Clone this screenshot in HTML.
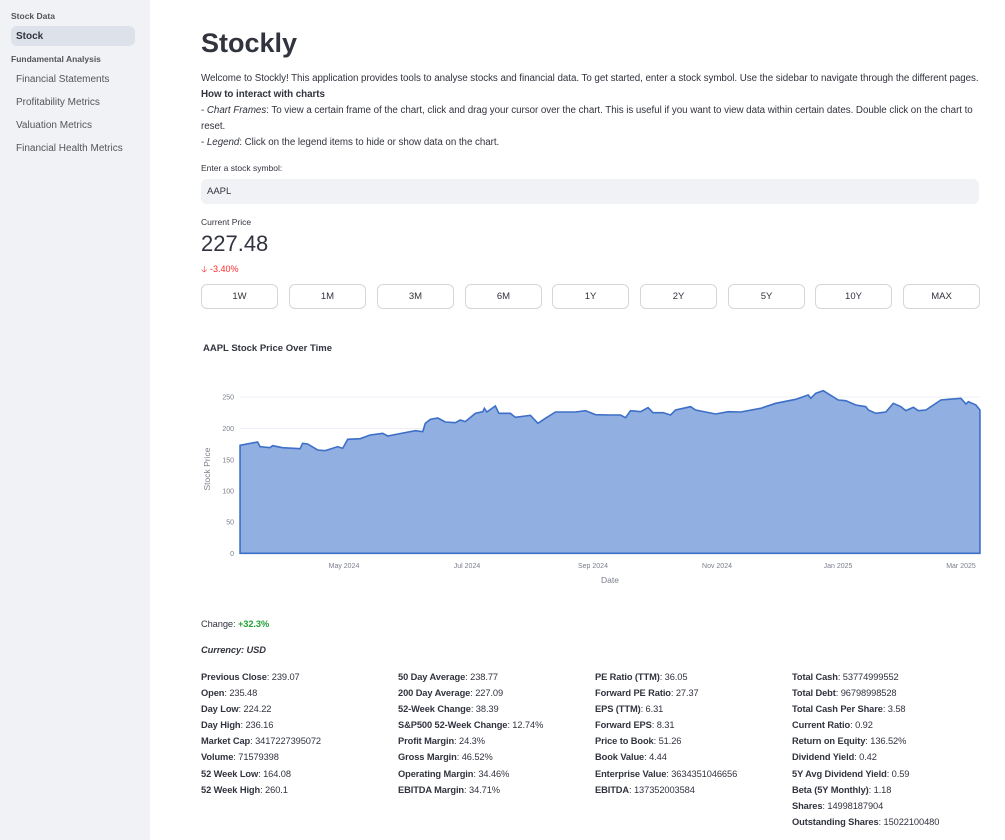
<!DOCTYPE html>
<html><head><meta charset="utf-8"><style>
*{margin:0;padding:0;box-sizing:border-box}
body{width:1005px;height:840px;overflow:hidden;background:#fff;font-family:"Liberation Sans",sans-serif;color:#31333f;position:relative}
.side{position:absolute;left:0;top:0;width:150px;height:840px;background:#f0f2f6}
.abs{position:absolute;white-space:nowrap}
.sh{font-size:8.5px;font-weight:bold;color:#555}
.si{font-size:10px;color:#555}
.t{font-size:9.8px;letter-spacing:-0.05px}
.btn{position:absolute;top:284px;height:25px;width:77px;border:1px solid #d6d6d9;border-radius:6px;font-size:9.5px;text-align:center;line-height:23px;color:#31333f}
.m{font-size:9.3px;letter-spacing:-0.1px}
.m b{font-weight:bold}
</style></head><body>
<div class="side"></div>
<div class="abs sh" style="left:11px;top:11px">Stock Data</div>
<div class="abs" style="left:11px;top:26px;width:124px;height:20px;background:#dde1ea;border-radius:6px"></div>
<div class="abs si" style="left:16px;top:31px;font-weight:bold;color:#31333f">Stock</div>
<div class="abs sh" style="left:11px;top:54px">Fundamental Analysis</div>
<div class="abs si" style="left:16px;top:74px">Financial Statements</div>
<div class="abs si" style="left:16px;top:97px">Profitability Metrics</div>
<div class="abs si" style="left:16px;top:120px">Valuation Metrics</div>
<div class="abs si" style="left:16px;top:143px">Financial Health Metrics</div>

<div class="abs" style="left:201px;top:28px;font-size:27px;font-weight:bold">Stockly</div>
<div class="abs t" style="left:201px;top:73px">Welcome to Stockly! This application provides tools to analyse stocks and financial data. To get started, enter a stock symbol. Use the sidebar to navigate through the different pages.</div>
<div class="abs t" style="left:201px;top:89px;font-weight:bold">How to interact with charts</div>
<div class="abs t" style="left:201px;top:105px">- <i>Chart Frames</i>: To view a certain frame of the chart, click and drag your cursor over the chart. This is useful if you want to view data within certain dates. Double click on the chart to</div>
<div class="abs t" style="left:201px;top:121px">reset.</div>
<div class="abs t" style="left:201px;top:137px">- <i>Legend</i>: Click on the legend items to hide or show data on the chart.</div>
<div class="abs" style="left:201px;top:163px;font-size:8.5px">Enter a stock symbol:</div>
<div class="abs" style="left:201px;top:179px;width:778px;height:25px;background:#f0f2f6;border-radius:6px"></div>
<div class="abs" style="left:207px;top:186px;font-size:9.5px">AAPL</div>
<div class="abs" style="left:201px;top:217px;font-size:8.5px">Current Price</div>
<div class="abs" style="left:201px;top:231px;font-size:22px">227.48</div>
<div class="abs" style="left:201px;top:262px;font-size:9px;color:#ff2b2b">&#129123; -3.40%</div>
<div class="btn" style="left:201px">1W</div>
<div class="btn" style="left:289px">1M</div>
<div class="btn" style="left:377px">3M</div>
<div class="btn" style="left:465px">6M</div>
<div class="btn" style="left:552px">1Y</div>
<div class="btn" style="left:640px">2Y</div>
<div class="btn" style="left:728px">5Y</div>
<div class="btn" style="left:815px">10Y</div>
<div class="btn" style="left:903px">MAX</div>

<div class="abs" style="left:203px;top:343px;font-size:9.5px;font-weight:bold">AAPL Stock Price Over Time</div>
<svg class="abs" style="left:0;top:0" width="1005" height="840">
<g stroke="#eceff5" stroke-width="1">
<line x1="240" x2="980" y1="397" y2="397"/><line x1="240" x2="980" y1="428.5" y2="428.5"/><line x1="240" x2="980" y1="460" y2="460"/><line x1="240" x2="980" y1="491" y2="491"/><line x1="240" x2="980" y1="522" y2="522"/>
</g>
<g font-size="7" fill="#7a7f8c" font-family="Liberation Sans" text-anchor="end">
<text x="234" y="399.5">250</text><text x="234" y="431">200</text><text x="234" y="462.5">150</text><text x="234" y="493.5">100</text><text x="234" y="524.5">50</text><text x="234" y="556">0</text>
</g>
<g font-size="7" fill="#7a7f8c" font-family="Liberation Sans" text-anchor="middle">
<text x="344" y="568">May 2024</text><text x="467" y="568">Jul 2024</text><text x="593" y="568">Sep 2024</text><text x="717" y="568">Nov 2024</text><text x="838" y="568">Jan 2025</text><text x="961" y="568">Mar 2025</text>
<text x="610" y="583" font-size="8.5">Date</text>
<text transform="translate(210,469) rotate(-90)" font-size="8.5">Stock Price</text>
</g>
<g transform="translate(195,380) scale(0.5006,0.3333)">
<path fill="#91afe0" stroke="#3d6fc8" stroke-width="1.6" vector-effect="non-scaling-stroke" d="M90,196 L125,186 L130,200 L150,203 L155,197 L175,203 L210,206 L215,190 L225,192 L245,210 L260,212 L285,200 L295,205 L305,178 L330,176 L350,165 L375,160 L385,168 L395,165 L440,152 L455,155 L460,130 L470,118 L485,114 L500,126 L520,128 L530,120 L540,125 L560,100 L575,95 L578,85 L583,96 L600,78 L607,100 L630,100 L640,112 L660,108 L670,106 L685,130 L700,115 L720,96 L760,96 L780,92 L800,104 L830,105 L850,105 L860,113 L870,92 L890,95 L905,83 L915,98 L935,98 L950,105 L960,90 L990,80 L1000,90 L1040,102 L1065,95 L1090,96 L1130,85 L1160,70 L1200,58 L1225,45 L1230,55 L1240,40 L1255,32 L1285,60 L1300,62 L1320,75 L1340,80 L1345,90 L1360,100 L1380,96 L1395,70 L1410,80 L1420,92 L1435,82 L1445,92 L1460,90 L1490,60 L1505,58 L1530,55 L1540,72 L1545,65 L1560,75 L1568,90 L1568,520 L90,520 Z"/>
</g>
</svg>

<div class="abs m" style="left:201px;top:619px">Change: <b style="color:#21a336">+32.3%</b></div>
<div class="abs m" style="left:201px;top:645px;font-weight:bold;font-style:italic">Currency: USD</div>
<div class="abs m" style="left:201px;top:669px;line-height:16.1px">
<b>Previous Close</b>: 239.07<br><b>Open</b>: 235.48<br><b>Day Low</b>: 224.22<br><b>Day High</b>: 236.16<br><b>Market Cap</b>: 3417227395072<br><b>Volume</b>: 71579398<br><b>52 Week Low</b>: 164.08<br><b>52 Week High</b>: 260.1</div>
<div class="abs m" style="left:398px;top:669px;line-height:16.1px">
<b>50 Day Average</b>: 238.77<br><b>200 Day Average</b>: 227.09<br><b>52-Week Change</b>: 38.39<br><b>S&amp;P500 52-Week Change</b>: 12.74%<br><b>Profit Margin</b>: 24.3%<br><b>Gross Margin</b>: 46.52%<br><b>Operating Margin</b>: 34.46%<br><b>EBITDA Margin</b>: 34.71%</div>
<div class="abs m" style="left:595px;top:669px;line-height:16.1px">
<b>PE Ratio (TTM)</b>: 36.05<br><b>Forward PE Ratio</b>: 27.37<br><b>EPS (TTM)</b>: 6.31<br><b>Forward EPS</b>: 8.31<br><b>Price to Book</b>: 51.26<br><b>Book Value</b>: 4.44<br><b>Enterprise Value</b>: 3634351046656<br><b>EBITDA</b>: 137352003584</div>
<div class="abs m" style="left:792px;top:669px;line-height:16.1px">
<b>Total Cash</b>: 53774999552<br><b>Total Debt</b>: 96798998528<br><b>Total Cash Per Share</b>: 3.58<br><b>Current Ratio</b>: 0.92<br><b>Return on Equity</b>: 136.52%<br><b>Dividend Yield</b>: 0.42<br><b>5Y Avg Dividend Yield</b>: 0.59<br><b>Beta (5Y Monthly)</b>: 1.18<br><b>Shares</b>: 14998187904<br><b>Outstanding Shares</b>: 15022100480</div>
</body></html>
